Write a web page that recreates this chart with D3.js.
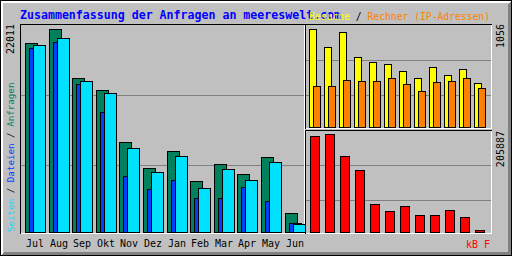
<!DOCTYPE html>
<html>
<head>
<meta charset="utf-8">
<script src="https://cdn.jsdelivr.net/npm/d3@7"></script>
<style>
  body { margin: 0; background: #fff; }
  svg { display: block; }
  text { font-family: "DejaVu Sans Mono", "Liberation Mono", monospace; }
</style>
</head>
<body>
<div class="canvas"></div>
<script>
// Data
const months = ["Jul", "Aug", "Sep", "Okt", "Nov", "Dez", "Jan", "Feb", "Mar", "Apr", "May", "Jun"];
const hits   = [20491, 22011, 16690, 15387, 9741, 6917, 8763, 5506, 7351, 6266, 8112, 2031];
const files  = [19948, 20600, 16039, 12998, 6081, 4637, 5614, 3660, 3660, 4854, 3334, 945];
const pages  = [20306, 21034, 16365, 15061, 9089, 6483, 8220, 4745, 6809, 5614, 7569, 836];
const visits = [1056, 862, 1024, 754, 700, 679, 603, 528, 647, 560, 625, 474];
const sites  = [442, 442, 506, 496, 496, 528, 463, 388, 485, 496, 528, 420];
const kbytes = [201686, 205887, 159668, 130256, 58825, 44119, 54623, 35715, 35715, 46220, 31514, 4202];

const W = 512, H = 256;
const col = {
  bg: "#c0c0c0", dk: "#808080", hits: "#00805c", files: "#0040ff", pages: "#00e0ff",
  visits: "#ffff00", sites: "#ff8000", kbytes: "#ff0000", title: "#0000ff"
};

const svg = d3.select(".canvas").append("svg")
  .attr("width", W).attr("height", H)
  .attr("shape-rendering", "crispEdges");

// background + 3d frame
svg.append("rect").attr("width", W).attr("height", H).attr("fill", col.bg);
const frame = svg.append("g").attr("fill", "none");
[1, 2].forEach((i) => {
  frame.append("path").attr("stroke", "#fff")
    .attr("d", `M${i + 0.5},${H - i - 0.5}V${i + 0.5}H${W - i - 0.5}`);
});
[1, 2, 3].forEach((i) => {
  frame.append("path").attr("stroke", col.dk)
    .attr("d", `M${i + 0.5},${H - i - 0.5}H${W - i - 0.5}V${i + 0.5}`);
});
frame.append("rect").attr("x", 0.5).attr("y", 0.5)
  .attr("width", W - 1).attr("height", H - 1).attr("stroke", "#000");

// panels: black top/left, white bottom/right
function panel(x0, y0, x1, y1) {
  const g = svg.append("g").attr("fill", "none");
  g.append("path").attr("stroke", "#000").attr("d", `M${x0 + 0.5},${y1 + 0.5}V${y0 + 0.5}H${x1 + 0.5}`);
  g.append("path").attr("stroke", "#fff").attr("d", `M${x0 + 0.5},${y1 + 0.5}H${x1 + 0.5}V${y0 + 0.5}`);
}
function grid(x0, x1, ys) {
  svg.append("g").selectAll("line").data(ys).join("line")
    .attr("x1", x0 + 1).attr("x2", x1)
    .attr("y1", (d) => d + 0.5).attr("y2", (d) => d + 0.5)
    .attr("stroke", col.dk);
}

panel(20, 24, 304, 233);
panel(305, 24, 491, 128);
panel(305, 130, 491, 233);

// Scales
const xL = d3.scaleBand().domain(months).range([25, 25 + 12 * 23.6]);
const yL = d3.scaleLinear().domain([0, d3.max(hits)]).range([232, 29]);
const xR = d3.scaleBand().domain(months).range([309, 309 + 12 * 15]);
const yV = d3.scaleLinear().domain([0, d3.max(visits)]).range([127, 29]);
const yK = d3.scaleLinear().domain([0, d3.max(kbytes)]).range([232, 134]);

grid(20, 304, [95, 165]);
grid(305, 491, [60, 95]);
grid(305, 491, [165, 200]);

function bars(data, x, y, off, w, fill) {
  svg.append("g").selectAll("rect").data(data).join("rect")
    .attr("x", (d, i) => Math.round(x(months[i])) + off + 0.5)
    .attr("y", (d) => Math.round(y(d)) + 0.5)
    .attr("width", w)
    .attr("height", (d) => Math.round(y(0)) - Math.round(y(d)))
    .attr("fill", fill)
    .attr("stroke", "#000");
}

bars(hits, xL, yL, 0, 12, col.hits);
bars(files, xL, yL, 4, 12, col.files);
bars(pages, xL, yL, 8, 12, col.pages);
bars(visits, xR, yV, 0, 7, col.visits);
bars(sites, xR, yV, 4, 7, col.sites);
bars(kbytes, xR, yK, 1, 9, col.kbytes);

// Month labels
svg.append("g").selectAll("text").data(months).join("text")
  .attr("x", (d) => Math.round(xL(d)) + 10)
  .attr("y", 247)
  .attr("text-anchor", "middle")
  .attr("font-size", 10)
  .attr("fill", "#000")
  .text((d) => d);

// Title
svg.append("text").attr("x", 20).attr("y", 19)
  .attr("font-size", 11.6).attr("font-weight", "bold")
  .attr("fill", col.title)
  .text("Zusammenfassung der Anfragen an meereswelt.com");

const legR = svg.append("text").attr("x", 490).attr("y", 20)
  .attr("text-anchor", "end").attr("font-size", 9.7);
legR.append("tspan").attr("fill", col.visits).text("Besuche");
legR.append("tspan").attr("fill", "#000").text(" / ");
legR.append("tspan").attr("fill", col.sites).text("Rechner (IP-Adressen)");

// Vertical labels
function vtext(x, y, anchor, size) {
  return svg.append("text")
    .attr("transform", `translate(${x},${y}) rotate(-90)`)
    .attr("text-anchor", anchor)
    .attr("font-size", size);
}
const legL = vtext(14, 232, "start", 9.2);
legL.append("tspan").attr("fill", col.pages).text("Seiten");
legL.append("tspan").attr("fill", "#000").text(" / ");
legL.append("tspan").attr("fill", col.files).text("Dateien");
legL.append("tspan").attr("fill", "#000").text(" / ");
legL.append("tspan").attr("fill", col.hits).text("Anfragen");

vtext(14, 24, "end", 10).attr("fill", "#000").text(d3.max(hits));
vtext(504, 24, "end", 10).attr("fill", "#000").text(d3.max(visits));
vtext(504, 131, "end", 10).attr("fill", "#000").text(d3.max(kbytes));

svg.append("text").attr("x", 490).attr("y", 248)
  .attr("text-anchor", "end").attr("font-size", 10)
  .attr("fill", col.kbytes).text("kB F");
</script>
</body>
</html>
